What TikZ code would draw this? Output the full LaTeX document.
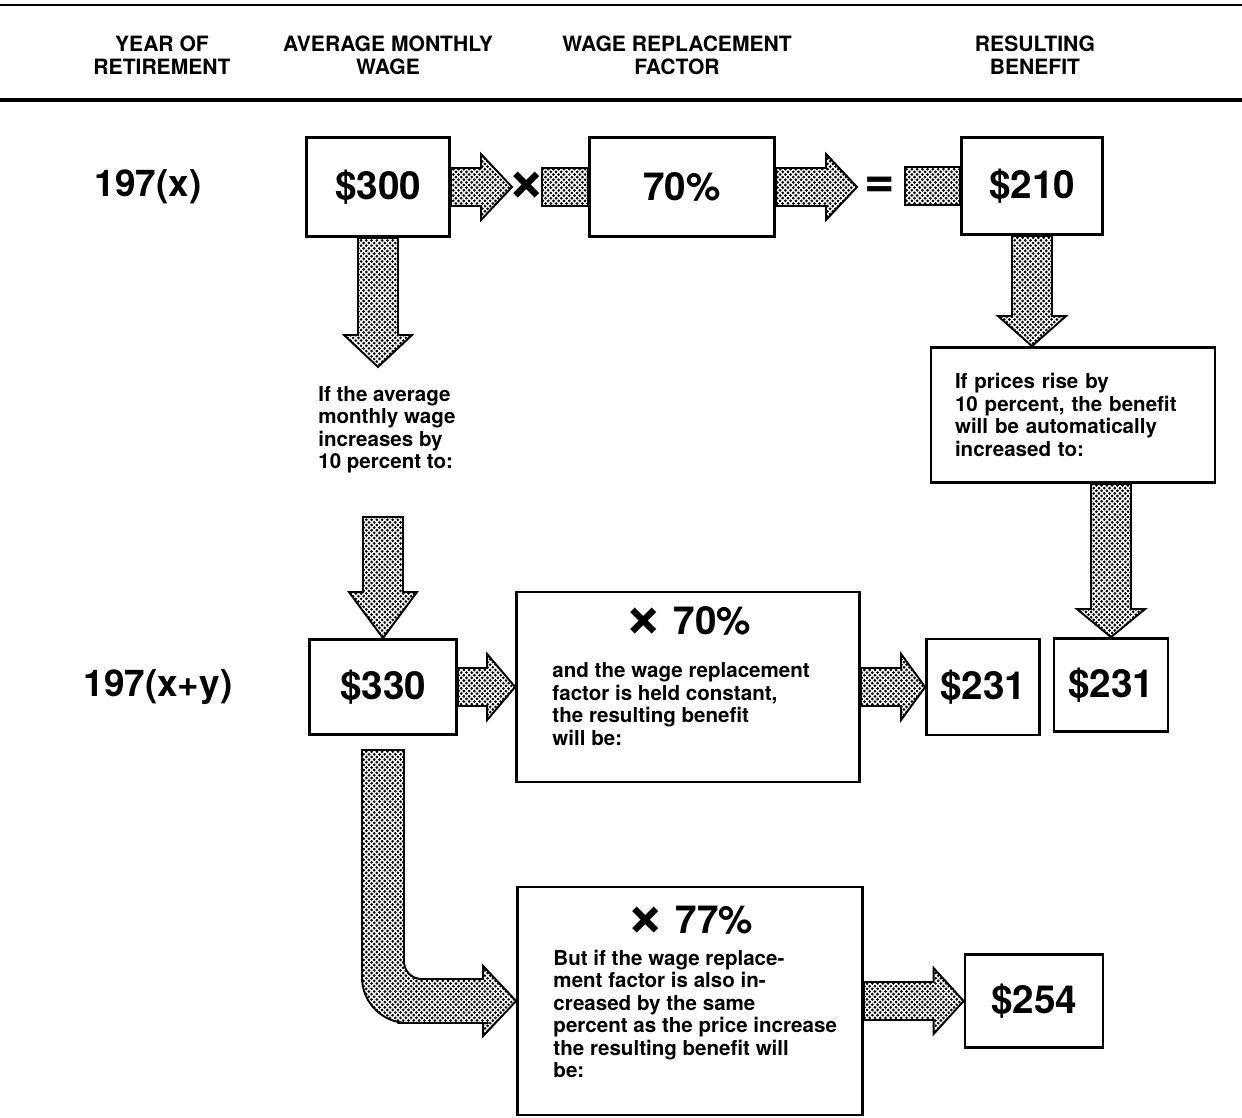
\documentclass[tikz,border=0pt]{standalone}
\usepackage{fontspec}
\setmainfont{TeX Gyre Heros}
\usetikzlibrary{calc,patterns}

% halftone fill of the block arrows
\pgfdeclarepatternformonly{halftone}{\pgfqpoint{-1pt}{-1pt}}{\pgfqpoint{4pt}{4pt}}{\pgfqpoint{3pt}{3pt}}{%
  \pgfpathcircle{\pgfqpoint{0pt}{0pt}}{.85pt}%
  \pgfpathcircle{\pgfqpoint{1.5pt}{1.5pt}}{.85pt}%
  \pgfusepath{fill}}

% large multiplication and equals signs
\newcommand{\bigtimes}{\raisebox{-.08em}{\scalebox{1.7}{×}}}
\newcommand{\bigequals}{\raisebox{-.1em}{\scalebox{1.35}{=}}}

\tikzset{
  numbox/.style={draw, line width=1.6pt, inner sep=0pt, font=\bfseries\fontsize{22}{26}\selectfont},
  textbox/.style={draw, line width=1.6pt, inner sep=0pt},
  hdr/.style={align=center, font=\bfseries\fontsize{12}{13}\selectfont},
  yrlabel/.style={font=\bfseries\fontsize{21}{25}\selectfont},
  bignum/.style={inner sep=0pt, font=\bfseries\fontsize{22}{26}\selectfont},
  body/.style={align=left, inner sep=0pt, font=\bfseries\fontsize{11.7}{12.8}\selectfont},
  blockarrow/.style={draw, line width=1.1pt, pattern=halftone},
}

% horizontal block arrow: [head length]{start}{tip}
\newcommand{\rightblock}[3][31]{%
  \draw[blockarrow] ($(#2)+(0,-19)$) -- ($(#3)+(-#1,-19)$) -- ($(#3)+(-#1,-33)$) -- (#3)
    -- ($(#3)+(-#1,33)$) -- ($(#3)+(-#1,19)$) -- ($(#2)+(0,19)$) -- cycle;}
% vertical block arrow: [head length]{start}{tip}
\newcommand{\downblock}[3][32]{%
  \draw[blockarrow] ($(#2)+(-20,0)$) -- ($(#3)+(-20,-#1)$) -- ($(#3)+(-34,-#1)$) -- (#3)
    -- ($(#3)+(34,-#1)$) -- ($(#3)+(20,-#1)$) -- ($(#2)+(20,0)$) -- cycle;}

\begin{document}
\begin{tikzpicture}[x=0.02cm, y=-0.02cm]
    \useasboundingbox (0,0) rectangle (1242,1118);

    % Header
    \draw[line width=1.5pt] (0,5) -- (1242,5);
    \node[hdr] (h1) at (162,55) {YEAR OF\\RETIREMENT};
    \node[hdr] (h2) at (388,55) {AVERAGE MONTHLY\\WAGE};
    \node[hdr] (h3) at (677,55) {WAGE REPLACEMENT\\FACTOR};
    \node[hdr] (h4) at (1035,55) {RESULTING\\BENEFIT};
    \draw[line width=1.8pt] (0,100) -- (1242,100);

    % Years
    \node[yrlabel] (yr1) at (148,187) {197(x)};
    \node[yrlabel] (yr2) at (158,687) {197(x+y)};

    % First row
    \node[numbox, minimum width=2.86cm, minimum height=1.98cm] (w1) at (378,187) {\$300};
    \node[numbox, minimum width=3.7cm, minimum height=1.98cm] (f1) at (682,187) {70\%};
    \node[numbox, minimum width=2.82cm, minimum height=1.94cm] (b1) at (1032,186) {\$210};
    \coordinate (t1) at (512,187);
    \rightblock{w1.east}{t1}
    \node[bignum] (x1) at (527,187) {\bigtimes};
    \coordinate (s1) at (542,187);
    \draw[blockarrow] ($(s1)+(0,-19)$) rectangle ($(f1.west)+(0,19)$);
    \coordinate (t2) at (857,187);
    \rightblock{f1.east}{t2}
    \node[bignum] (eq1) at (880,187) {\bigequals};
    \coordinate (s2) at (905,186);
    \draw[blockarrow] ($(s2)+(0,-19)$) rectangle ($(b1.west)+(0,19)$);

    % Wage goes up
    \coordinate (t3) at (378,367);
    \downblock{w1.south}{t3}
    \node[body, anchor=north west] (txt1) at (318,386) {If the average\\monthly wage\\increases by\\10 percent to:};
    \node[numbox, minimum width=2.94cm, minimum height=1.9cm] (w2) at (383,687) {\$330};
    \coordinate (s3) at (383,517);
    \downblock[46]{s3}{w2.north}

    % Factor held constant
    \node[textbox, minimum width=6.86cm, minimum height=3.8cm] (f2) at (688,687) {};
    \node[bignum] (f2x) at ($(f2.north)+(0,31)$) {\bigtimes\ 70\%};
    \node[body, anchor=north west] (f2t) at ($(f2.north west)+(37,72)$) {and the wage replacement\\factor is held constant,\\the resulting benefit\\will be:};
    \rightblock[28]{w2.east}{f2.west}
    \node[numbox, minimum width=2.26cm, minimum height=1.92cm] (b2) at (983,687) {\$231};
    \rightblock[24]{f2.east}{b2.west}

    % Prices go up
    \node[textbox, body, minimum width=5.68cm, minimum height=2.7cm, text width=4.72cm] (note) at (1073,415) {If prices rise by\\10 percent, the benefit\\will be automatically\\increased to:};
    \coordinate (n1) at (b1.south |- note.north);
    \downblock[30]{b1.south}{n1}
    \node[numbox, minimum width=2.28cm, minimum height=1.86cm] (b3) at (1111,685) {\$231};
    \coordinate (n2) at (note.south -| b3.north);
    \downblock[28]{n2}{b3.north}

    % Factor raised too
    \node[textbox, minimum width=6.9cm, minimum height=4.56cm] (f3) at (690,1001) {};
    \node[bignum] (f3x) at ($(f3.north)+(0,36)$) {\bigtimes\ 77\%};
    \node[body, anchor=north west] (f3t) at ($(f3.north west)+(37,64)$) {But if the wage replace-\\ment factor is also in-\\creased by the same\\percent as the price increase\\the resulting benefit will\\be:};
    \coordinate (s4) at (383,750);
    \coordinate (c4) at (s4 |- f3.west);
    \draw[blockarrow] ($(s4)+(-21,0)$) -- ($(s4)+(-21,150)$) [rounded corners=26pt]
      -- ($(c4)+(-21,22)$) -- ($(c4)+(60,22)$) [sharp corners]
      -- ($(f3.west)+(-33,22)$) -- ($(f3.west)+(-33,35)$) -- (f3.west)
      -- ($(f3.west)+(-33,-35)$) -- ($(f3.west)+(-33,-22)$) -- ($(c4)+(50,-22)$) [rounded corners=10pt]
      -- ($(c4)+(21,-22)$) -- ($(s4)+(21,150)$) [sharp corners]
      -- ($(s4)+(21,0)$) -- cycle;
    \node[numbox, minimum width=2.76cm, minimum height=1.86cm] (b4) at (1034,1001) {\$254};
    \rightblock[30]{f3.east}{b4.west}
\end{tikzpicture}
\end{document}
